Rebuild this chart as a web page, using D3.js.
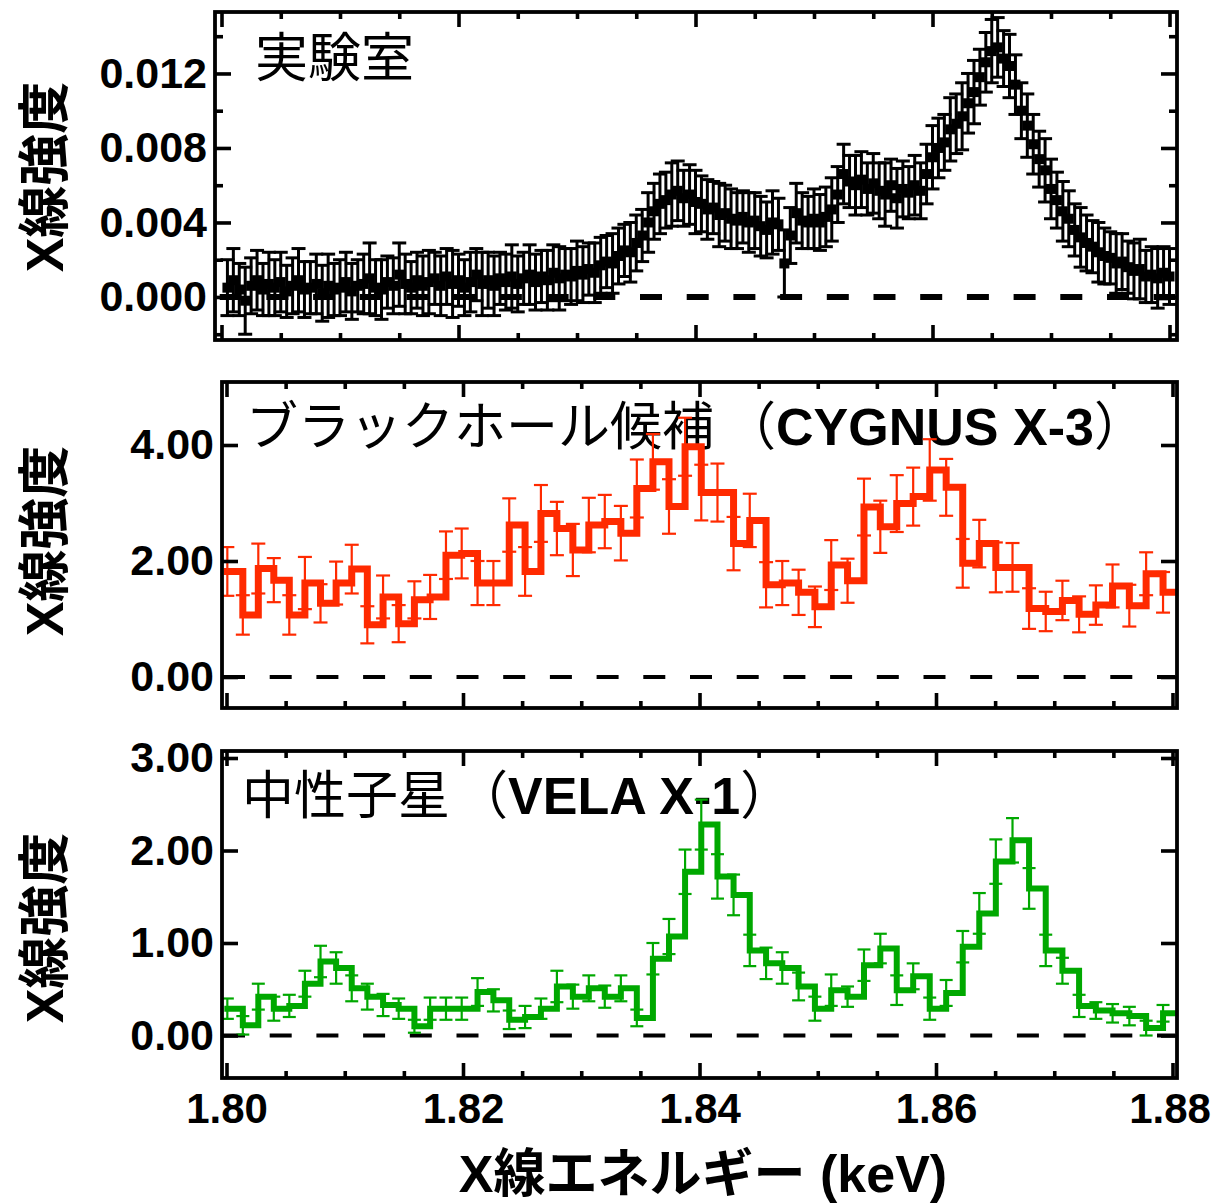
<!DOCTYPE html>
<html><head><meta charset="utf-8">
<script src="https://cdn.jsdelivr.net/npm/d3@7"></script>
<style>body{margin:0;background:#fff}</style>
</head><body>
<svg id="chart" width="1213" height="1204"></svg>
<script>
// ---------------- DATA ----------------
// X-axis tick labels (keV)
const xTickLabels = [1.80, 1.82, 1.84, 1.86, 1.88];

// Panel 1 (laboratory): sampled every 0.0005 keV starting at 1.8005
const labStart = 1.8005, labStep = 0.0005;
const labValues = [
  0.0005,0.0009,0.0004,-0.0002,0.0006,0.0009,0.0004,0.0007,0.0005,0.0008,
  0.0003,0.0006,0.0009,0.0004,0.0005,0.0007,0.0002,0.0006,0.0004,0.0005,
  0.0008,0.0003,0.0006,0.0007,0.0010,0.0005,0.0004,0.0008,0.0006,0.0012,
  0.0007,0.0005,0.0009,0.0006,0.0008,0.0010,0.0006,0.0011,0.0007,0.0009,
  0.0005,0.0008,0.0012,0.0007,0.0009,0.0006,0.0010,0.0008,0.0011,0.0007,
  0.0010,0.0012,0.0008,0.0011,0.0009,0.0013,0.0010,0.0012,0.0011,0.0014,
  0.0012,0.0015,0.0013,0.0017,0.0019,0.0018,0.0022,0.0025,0.0024,0.0029,
  0.0033,0.0040,0.0046,0.0050,0.0052,0.0055,0.0057,0.0053,0.0055,0.0051,
  0.0050,0.0047,0.0048,0.0044,0.0045,0.0042,0.0041,0.0043,0.0040,0.0041,
  0.0038,0.0036,0.0040,0.0039,0.0018,0.0033,0.0045,0.0041,0.0040,0.0042,
  0.0040,0.0043,0.0047,0.0055,0.0066,0.0062,0.0060,0.0063,0.0058,0.0061,
  0.0057,0.0055,0.0060,0.0053,0.0058,0.0056,0.0060,0.0057,0.0066,0.0075,
  0.0080,0.0083,0.0090,0.0093,0.0097,0.0104,0.0110,0.0118,0.0126,0.0132,
  0.0134,0.0128,0.0124,0.0114,0.0100,0.0092,0.0082,0.0074,0.0068,0.0058,
  0.0052,0.0046,0.0042,0.0036,0.0032,0.0029,0.0027,0.0024,0.0022,0.0021,
  0.0018,0.0019,0.0016,0.0014,0.0015,0.0011,0.0012,0.0010,0.0013,0.0011
];
const labErrors = [
  0.0015,0.0017,0.0014,0.0018,0.0015,0.0016,0.0014,0.0017,0.0015,0.0016,
  0.0014,0.0015,0.0017,0.0015,0.0014,0.0016,0.0015,0.0017,0.0014,0.0015,
  0.0016,0.0015,0.0014,0.0016,0.0019,0.0015,0.0016,0.0014,0.0015,0.0017,
  0.0016,0.0014,0.0015,0.0016,0.0017,0.0014,0.0016,0.0015,0.0018,0.0014,
  0.0015,0.0016,0.0014,0.0017,0.0015,0.0016,0.0014,0.0015,0.0017,0.0015,
  0.0014,0.0016,0.0015,0.0014,0.0016,0.0015,0.0017,0.0014,0.0015,0.0016,
  0.0015,0.0014,0.0016,0.0015,0.0014,0.0016,0.0015,0.0014,0.0016,0.0015,
  0.0014,0.0016,0.0015,0.0016,0.0015,0.0017,0.0016,0.0015,0.0016,0.0017,
  0.0015,0.0016,0.0014,0.0017,0.0015,0.0016,0.0015,0.0014,0.0016,0.0015,
  0.0016,0.0015,0.0017,0.0014,0.0018,0.0015,0.0016,0.0015,0.0014,0.0016,
  0.0015,0.0016,0.0017,0.0015,0.0016,0.0014,0.0016,0.0015,0.0014,0.0016,
  0.0015,0.0017,0.0014,0.0016,0.0015,0.0014,0.0016,0.0015,0.0016,0.0017,
  0.0016,0.0015,0.0017,0.0016,0.0018,0.0016,0.0017,0.0015,0.0016,0.0017,
  0.0016,0.0015,0.0017,0.0016,0.0015,0.0017,0.0016,0.0015,0.0017,0.0016,
  0.0015,0.0016,0.0015,0.0014,0.0016,0.0015,0.0014,0.0016,0.0015,0.0014,
  0.0016,0.0015,0.0014,0.0015,0.0016,0.0014,0.0015,0.0016,0.0014,0.0015
];

// Panels 2 & 3: histogram bins (left edges, keV) and the end of the last bin
const binStarts = [
  1.80007,1.80138,1.80269,1.80400,1.80531,1.80663,1.80795,1.80927,1.81059,1.81191,
  1.81324,1.81456,1.81589,1.81722,1.81856,1.81989,1.82123,1.82257,1.82391,1.82525,
  1.82659,1.82794,1.82929,1.83064,1.83199,1.83335,1.83470,1.83606,1.83742,1.83878,
  1.84015,1.84152,1.84288,1.84425,1.84563,1.84700,1.84838,1.84976,1.85114,1.85252,
  1.85391,1.85529,1.85668,1.85807,1.85947,1.86086,1.86226,1.86366,1.86506,1.86647,
  1.86787,1.86928,1.87069,1.87210,1.87352,1.87493,1.87635,1.87777,1.87920
];
const binEnd = 1.88062;

// Panel 2: CYGNUS X-3
const cygValues = [
  1.82,1.07,1.87,1.67,1.07,1.62,1.27,1.62,1.86,0.90,
  1.38,0.92,1.33,1.38,2.10,2.13,1.62,1.62,2.62,1.82,
  2.82,2.56,2.19,2.62,2.68,2.48,3.25,3.71,2.94,3.97,
  3.18,3.18,2.30,2.70,1.59,1.62,1.46,1.21,1.93,1.66,
  2.93,2.59,2.99,3.11,3.57,3.27,1.96,2.30,1.89,1.89,
  1.18,1.13,1.32,1.08,1.24,1.57,1.23,1.78,1.46
];
const cygErrors = [
  0.42,0.34,0.43,0.38,0.34,0.45,0.33,0.37,0.42,0.32,
  0.37,0.32,0.32,0.38,0.41,0.43,0.38,0.38,0.46,0.42,
  0.49,0.46,0.45,0.47,0.46,0.47,0.50,0.48,0.47,0.50,
  0.48,0.50,0.46,0.46,0.39,0.38,0.39,0.35,0.43,0.38,
  0.49,0.45,0.49,0.50,0.53,0.49,0.42,0.41,0.43,0.42,
  0.35,0.34,0.34,0.31,0.34,0.37,0.36,0.37,0.35
];

// Panel 3: VELA X-1
const velaValues = [
  0.29,0.11,0.42,0.29,0.32,0.56,0.80,0.73,0.51,0.42,
  0.33,0.29,0.10,0.29,0.29,0.29,0.47,0.38,0.17,0.20,
  0.29,0.53,0.42,0.51,0.42,0.51,0.19,0.83,1.07,1.77,
  2.28,1.72,1.52,0.92,0.78,0.73,0.53,0.29,0.49,0.42,
  0.76,0.94,0.49,0.64,0.29,0.46,0.96,1.32,1.88,2.11,
  1.59,0.92,0.70,0.32,0.27,0.24,0.21,0.08,0.24
];
const velaErrors = [
  0.11,0.10,0.14,0.13,0.12,0.14,0.17,0.17,0.14,0.14,
  0.12,0.11,0.07,0.12,0.12,0.12,0.15,0.12,0.10,0.12,
  0.11,0.17,0.13,0.14,0.12,0.14,0.09,0.17,0.19,0.24,
  0.27,0.24,0.22,0.17,0.17,0.17,0.15,0.13,0.17,0.11,
  0.17,0.16,0.16,0.14,0.12,0.14,0.17,0.22,0.24,0.24,
  0.22,0.17,0.14,0.12,0.09,0.10,0.10,0.08,0.09
];

// Y tick labels per panel
const labYTicks = [0, 0.004, 0.008, 0.012];
const labYMinor = [-0.002, 0.002, 0.006, 0.010, 0.014];
const cygYTicks = [0, 2, 4];
const velaYTicks = [0, 1, 2, 3];

// Texts
const yTitle = 'X線強度';
const xTitle = 'X線エネルギー (keV)';
const labTitle = '実験室';
const cygTitle = ['ブラックホール候補', '（', 'CYGNUS X-3', '）'];
const velaTitle = ['中性子星', '（', 'VELA X-1', '）'];

// ---------------- DRAWING ----------------
const svg = d3.select('#chart');
const LATIN = '"Liberation Sans", Arial, "Noto Sans CJK JP", sans-serif';
const CJK = '"Noto Sans CJK JP", sans-serif';
const RED = '#ff2a00', GREEN = '#00a800';

function panel(cfg) {
  const x = d3.scaleLinear().domain([1.80, 1.88]).range(cfg.xr);
  const y = d3.scaleLinear().domain(cfg.ydom).range([cfg.fy1, cfg.fy0]);
  const g = svg.append('g');
  const clipId = 'clip' + cfg.id;
  svg.append('clipPath').attr('id', clipId).append('rect')
    .attr('x', cfg.fx0).attr('y', cfg.fy0)
    .attr('width', cfg.fx1 - cfg.fx0).attr('height', cfg.fy1 - cfg.fy0);

  cfg.title(g);

  g.append('line')
    .attr('x1', cfg.dashStart).attr('x2', cfg.fx1 - 2)
    .attr('y1', y(0)).attr('y2', y(0))
    .attr('stroke', '#000').attr('stroke-width', cfg.dashW)
    .attr('stroke-dasharray', '22 24.7');

  const dg = g.append('g').attr('clip-path', `url(#${clipId})`);
  cfg.drawData(dg, x, y);

  g.append('rect')
    .attr('x', cfg.fx0).attr('y', cfg.fy0)
    .attr('width', cfg.fx1 - cfg.fx0).attr('height', cfg.fy1 - cfg.fy0)
    .attr('fill', 'none').attr('stroke', '#000').attr('stroke-width', 3.8);

  const isMajor = v => xTickLabels.some(m => Math.abs(m - v) < 1e-9);
  const xMinor = x.ticks(16).filter(v => !isMajor(v));
  const styleAxis = (sel) => {
    sel.select('.domain').remove();
    sel.selectAll('line').attr('stroke', '#000').attr('stroke-width', 3.6);
  };
  const addAxis = (axis, tx, ty) => g.append('g')
    .attr('transform', `translate(${tx},${ty})`).call(axis).call(styleAxis);

  addAxis(d3.axisBottom(x).tickValues(xTickLabels).tickSize(-15).tickFormat(''), 0, cfg.fy1);
  addAxis(d3.axisBottom(x).tickValues(xMinor).tickSize(-7).tickFormat(''), 0, cfg.fy1);
  addAxis(d3.axisTop(x).tickValues(xTickLabels).tickSize(-15).tickFormat(''), 0, cfg.fy0);
  addAxis(d3.axisTop(x).tickValues(xMinor).tickSize(-7).tickFormat(''), 0, cfg.fy0);
  addAxis(d3.axisLeft(y).tickValues(cfg.yTicks).tickSize(-16).tickFormat(''), cfg.fx0, 0);
  addAxis(d3.axisRight(y).tickValues(cfg.yTicks).tickSize(-16).tickFormat(''), cfg.fx1, 0);
  if (cfg.yMinor) {
    addAxis(d3.axisLeft(y).tickValues(cfg.yMinor).tickSize(-8).tickFormat(''), cfg.fx0, 0);
    addAxis(d3.axisRight(y).tickValues(cfg.yMinor).tickSize(-8).tickFormat(''), cfg.fx1, 0);
  }

  const yl = g.append('g').attr('transform', `translate(${cfg.fx0},0)`)
    .call(d3.axisLeft(y).tickValues(cfg.yTicks).tickSize(0).tickPadding(8)
      .tickFormat(d3.format(cfg.yFmt)));
  yl.select('.domain').remove();
  yl.selectAll('text').attr('fill', '#000')
    .style('font-family', LATIN).style('font-weight', 'bold').style('font-size', '43px');

  g.append('text')
    .attr('transform', `translate(45,${cfg.yTitleY}) rotate(-90)`)
    .attr('text-anchor', 'middle').attr('dominant-baseline', 'central')
    .style('font-family', LATIN).style('font-weight', 'bold').style('font-size', '52px')
    .text(yTitle);

  if (cfg.xLabels) {
    const xl = g.append('g').attr('transform', `translate(0,${cfg.fy1})`)
      .call(d3.axisBottom(x).tickValues(xTickLabels).tickSize(0).tickPadding(15)
        .tickFormat(d3.format('.2f')));
    xl.select('.domain').remove();
    xl.selectAll('text').attr('fill', '#000')
      .style('font-family', LATIN).style('font-weight', 'bold').style('font-size', '42px')
      .attr('dx', (d, i, n) => i === n.length - 1 ? -3 : 0);
  }
  return {x, y};
}

function errorBars(g, pts, x, y, color, cap, w) {
  const eb = g.append('g').attr('stroke', color).attr('stroke-width', w);
  pts.forEach(p => {
    const cx = x(p.e), y1 = y(p.v - p.err), y2 = y(p.v + p.err);
    eb.append('line').attr('x1', cx).attr('x2', cx).attr('y1', y1).attr('y2', y2);
    eb.append('line').attr('x1', cx - cap / 2).attr('x2', cx + cap / 2).attr('y1', y1).attr('y2', y1);
    eb.append('line').attr('x1', cx - cap / 2).attr('x2', cx + cap / 2).attr('y1', y2).attr('y2', y2);
  });
}

function titleCJKLatin(parts, tx, ty, parenDx) {
  return (g) => {
    const t = g.append('text').attr('x', tx).attr('y', ty).style('font-size', '52px').attr('fill', '#000');
    t.append('tspan').style('font-family', CJK).text(parts[0]);
    t.append('tspan').attr('dx', parenDx).style('font-family', CJK).text(parts[1]);
    t.append('tspan').style('font-family', LATIN).style('font-weight', 'bold').text(parts[2]);
    t.append('tspan').style('font-family', CJK).text(parts[3]);
  };
}

// Panel 1
const labPts = labValues.map((v, i) => ({e: labStart + i * labStep, v, err: labErrors[i]}));
panel({
  id: 1, fx0: 215, fx1: 1177, fy0: 12, fy1: 340, xr: [221.5, 1169.5],
  ydom: [-0.00231, 0.0153], yTicks: labYTicks, yMinor: labYMinor, yFmt: '.3f',
  dashStart: 219.7, dashW: 6, yTitleY: 177,
  title: (g) => g.append('text').attr('x', 255).attr('y', 77)
    .style('font-family', CJK).style('font-size', '53px').text(labTitle),
  drawData: (g, x, y) => {
    errorBars(g, labPts, x, y, '#000', 14, 3);
    g.append('g').selectAll('rect').data(labPts).join('rect')
      .attr('x', d => x(d.e) - 5).attr('y', d => y(d.v) - 5)
      .attr('width', 10).attr('height', 10).attr('fill', '#000');
  }
});

function histData(vals, errs) {
  return vals.map((v, i) => ({e: binStarts[i], v, err: errs[i]}));
}
function histogram(g, pts, x, y, color, w) {
  const line = d3.line().x(d => x(d[0])).y(d => y(d[1])).curve(d3.curveStepAfter);
  const arr = pts.map(p => [p.e, p.v]);
  arr.push([binEnd, pts[pts.length - 1].v]);
  g.append('path').attr('d', line(arr)).attr('fill', 'none')
    .attr('stroke', color).attr('stroke-width', w)
    .attr('stroke-linejoin', 'miter').attr('stroke-linecap', 'square');
}

// Panel 2
const cygPts = histData(cygValues, cygErrors);
panel({
  id: 2, fx0: 222, fx1: 1177, fy0: 382, fy1: 708, xr: [226.5, 1172.5],
  ydom: [(677 - 708) / 58, (677 - 382) / 58], yTicks: cygYTicks, yFmt: '.2f',
  dashStart: 223, dashW: 4, yTitleY: 541,
  title: titleCJKLatin(cygTitle, 246, 445, 10),
  drawData: (g, x, y) => {
    errorBars(g, cygPts, x, y, RED, 14, 2.2);
    histogram(g, cygPts, x, y, RED, 7);
  }
});

// Panel 3
const velaPts = histData(velaValues, velaErrors);
panel({
  id: 3, fx0: 222, fx1: 1177, fy0: 751, fy1: 1078, xr: [226.5, 1172.5],
  ydom: [(1035.5 - 1078) / 92.5, (1035.5 - 751) / 92.5], yTicks: velaYTicks, yFmt: '.2f',
  dashStart: 223, dashW: 4, yTitleY: 928, xLabels: true,
  title: titleCJKLatin(velaTitle, 242, 814, 6),
  drawData: (g, x, y) => {
    errorBars(g, velaPts, x, y, GREEN, 13, 2.2);
    histogram(g, velaPts, x, y, GREEN, 6);
  }
});

svg.append('text').attr('x', 703).attr('y', 1192).attr('text-anchor', 'middle')
  .style('font-family', LATIN).style('font-weight', 'bold').style('font-size', '52px')
  .text(xTitle);
</script>
</body></html>
